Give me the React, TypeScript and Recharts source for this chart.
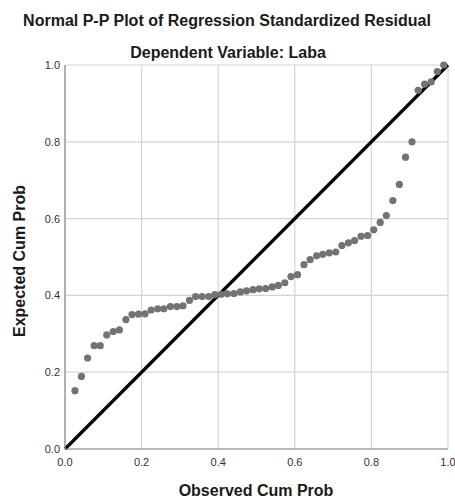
import { CartesianGrid, ReferenceLine, Scatter, ScatterChart, XAxis, YAxis } from "recharts";

const FONT = "'Liberation Sans', Arial, sans-serif";
const GRID = "#d4d4d4";
const AXIS = "#8c8c8c";
const DOT = "#737373";

// Observed cumulative probability (x) and expected cumulative probability (y),
// read off the SPSS P-P plot point by point.
const observedCumProb = [
  0.026, 0.043, 0.059, 0.076, 0.092, 0.109, 0.126, 0.142, 0.159, 0.175,
  0.192, 0.209, 0.225, 0.242, 0.258, 0.275, 0.292, 0.308, 0.325, 0.341,
  0.358, 0.375, 0.391, 0.408, 0.424, 0.441, 0.458, 0.474, 0.491, 0.507,
  0.524, 0.541, 0.557, 0.574, 0.59, 0.607, 0.624, 0.64, 0.657, 0.673,
  0.69, 0.707, 0.723, 0.74, 0.756, 0.773, 0.79, 0.806, 0.823, 0.839,
  0.856, 0.873, 0.889, 0.906, 0.922, 0.939, 0.956, 0.972, 0.989,
];
const expectedCumProb = [
  0.152, 0.189, 0.237, 0.269, 0.269, 0.297, 0.306, 0.31, 0.337, 0.35,
  0.351, 0.352, 0.362, 0.365, 0.365, 0.371, 0.371, 0.373, 0.387, 0.397,
  0.397, 0.397, 0.402, 0.403, 0.404, 0.405, 0.409, 0.412, 0.415, 0.417,
  0.418, 0.422, 0.426, 0.433, 0.449, 0.454, 0.48, 0.493, 0.503, 0.507,
  0.511, 0.513, 0.53, 0.537, 0.543, 0.554, 0.556, 0.571, 0.59, 0.608,
  0.647, 0.689, 0.76, 0.8, 0.934, 0.95, 0.956, 0.983, 1.0,
];
const axisTicks = [0, 0.2, 0.4, 0.6, 0.8, 1.0];

const points = observedCumProb.map((x, i) => ({ x, y: expectedCumProb[i] }));

const tickStyle = { fill: "#333", fontSize: 11, fontFamily: FONT };

function Dot(props: any) {
  const { cx, cy } = props;
  return <circle cx={cx} cy={cy} r={3.6} fill={DOT} />;
}

export default function App() {
  return (
    <div style={{ position: "absolute", left: 0, top: 0, width: 455, height: 499, background: "#fff" }}>
      <ScatterChart width={455} height={499} margin={{ top: 65, right: 7, bottom: 30, left: 0 }}>
        <CartesianGrid stroke={GRID} strokeWidth={1.2} horizontalValues={axisTicks} verticalValues={axisTicks} />
        <XAxis
          type="number"
          dataKey="x"
          domain={[0, 1]}
          ticks={axisTicks}
          interval={0}
          height={20}
          tickFormatter={(v: number) => v.toFixed(1)}
          tick={tickStyle}
          tickLine={false}
          tickSize={0}
          tickMargin={9}
          axisLine={{ stroke: AXIS, strokeWidth: 1.2 }}
        />
        <YAxis
          type="number"
          dataKey="y"
          domain={[0, 1]}
          ticks={axisTicks}
          interval={0}
          width={65}
          tickFormatter={(v: number) => v.toFixed(1)}
          tick={tickStyle}
          tickLine={false}
          tickSize={0}
          tickMargin={5}
          axisLine={{ stroke: AXIS, strokeWidth: 1.2 }}
        />
        <Scatter data={points} shape={Dot} isAnimationActive={false} />
        <ReferenceLine
          segment={[
            { x: 0, y: 0 },
            { x: 1, y: 1 },
          ]}
          stroke="#000"
          strokeWidth={3.2}
        />
      </ScatterChart>
      <svg
        width={455}
        height={499}
        style={{ position: "absolute", left: 0, top: 0, pointerEvents: "none" }}
        fontFamily={FONT}
        fontWeight="bold"
        fill="#1a1a1a"
      >
        <text x={227} y={26} textAnchor="middle" fontSize={16}>
          Normal P-P Plot of Regression Standardized Residual
        </text>
        <text x={228} y={58} textAnchor="middle" fontSize={16}>
          Dependent Variable: Laba
        </text>
        <text x={256} y={496} textAnchor="middle" fontSize={16}>
          Observed Cum Prob
        </text>
        <text x={25} y={261} textAnchor="middle" fontSize={16} transform="rotate(-90 25 261)">
          Expected Cum Prob
        </text>
      </svg>
    </div>
  );
}
